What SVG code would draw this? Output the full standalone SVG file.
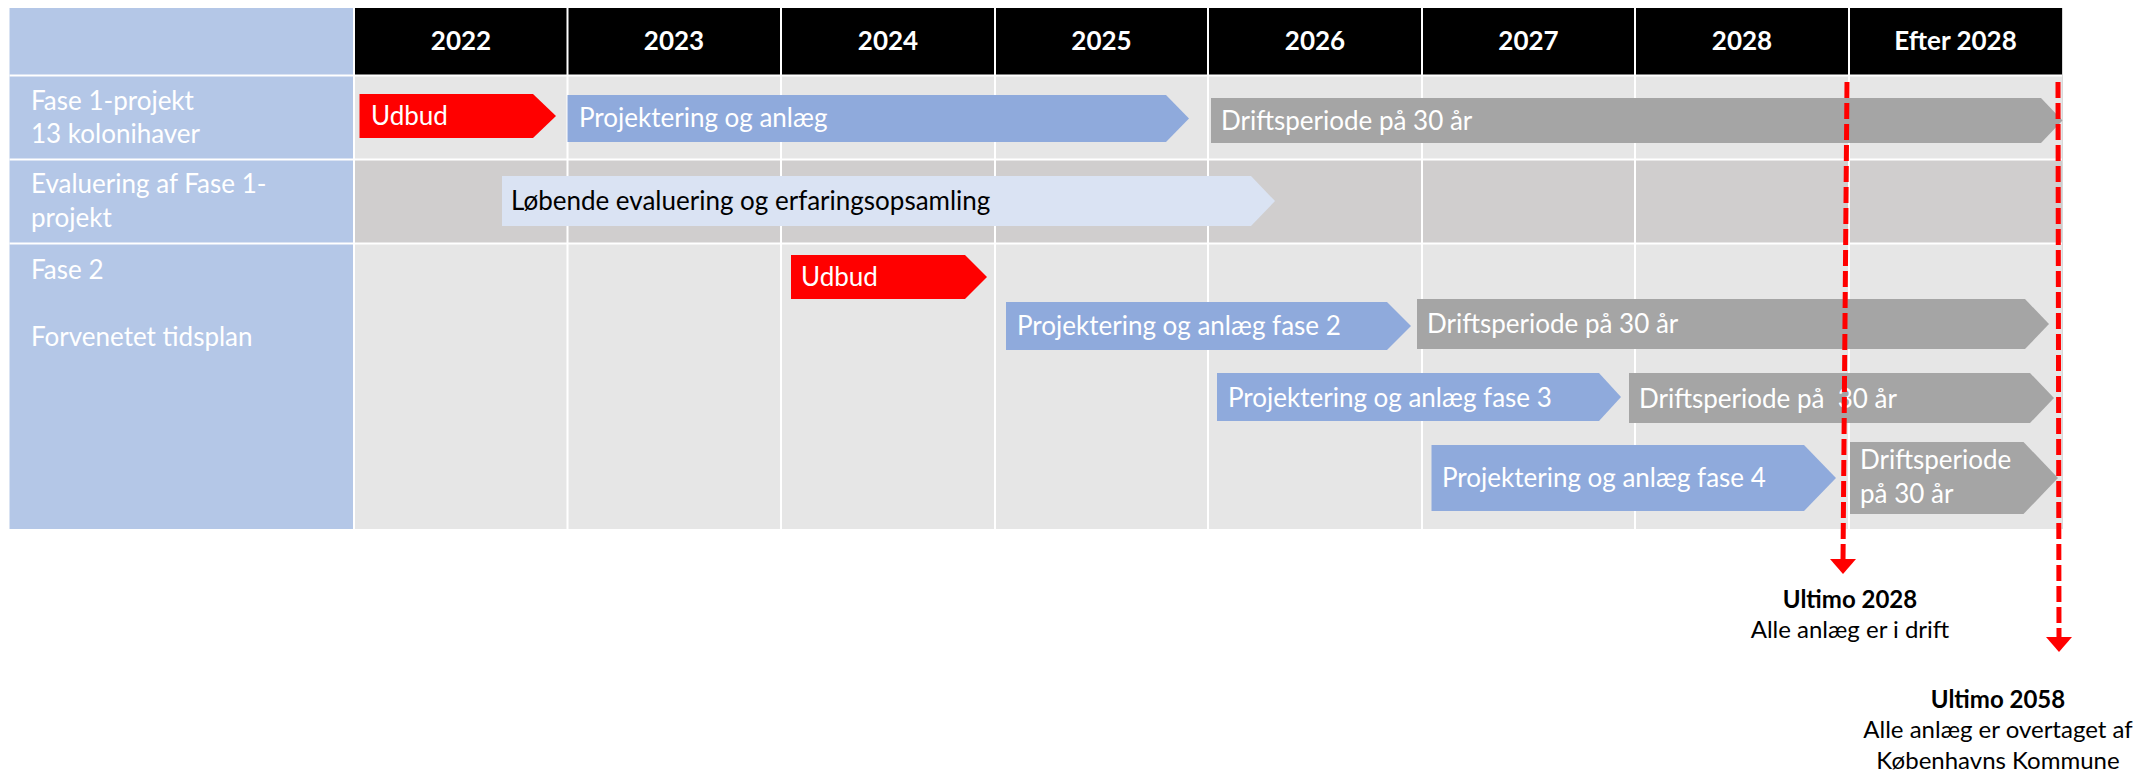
<svg xmlns="http://www.w3.org/2000/svg" width="2138" height="776" viewBox="0 0 2138 776">
<defs>
<style>
.t{font-family:Lato,"Open Sans","Liberation Sans",sans-serif;font-size:26px;fill:#fff}
.h{font-weight:bold;text-anchor:middle;font-size:26px}
.k{fill:#000}
.a{font-family:Lato,"Open Sans","Liberation Sans",sans-serif;font-size:24px;fill:#000;text-anchor:middle}
.b{font-weight:bold}
.grid{stroke:#fff;stroke-width:2;fill:none}
.red{fill:#FF0000}
.blue{fill:#8FAADC}
.gray{fill:#A5A5A5}
.pale{fill:#DAE3F3}
.dash{stroke:#FF0000;stroke-width:5;stroke-dasharray:16 5;fill:none}
</style>
<marker id="ah" viewBox="0 0 10 10" refX="10" refY="5" markerWidth="5" markerHeight="3" markerUnits="strokeWidth" orient="auto">
<path d="M0,0 L10,5 L0,10 Z" fill="#FF0000"/>
</marker>
</defs>
<rect width="2138" height="776" fill="#fff"/>
<g id="table">
<rect x="9.5" y="8" width="344.5" height="521" fill="#B4C7E7"/>
<rect x="354" y="8" width="1708.5" height="67.5" fill="#000"/>
<rect x="354" y="75.5" width="1708.5" height="84" fill="#E6E6E6"/>
<rect x="354" y="159.5" width="1708.5" height="84" fill="#D0CECE"/>
<rect x="354" y="243.5" width="1708.5" height="285.5" fill="#E6E6E6"/>
<path class="grid" d="M9.5,75.5H2062.5M9.5,159.5H2062.5M9.5,243.5H2062.5M354,8V529M567.5,8V529M781,8V529M995,8V529M1208,8V529M1422,8V529M1635,8V529M1849,8V529"/>
<line x1="2062.5" y1="8" x2="2062.5" y2="529" stroke="#D9D9D9" stroke-width="1"/>
</g>
<g id="header">
<text class="t h" x="461" y="50">2022</text>
<text class="t h" x="674" y="50">2023</text>
<text class="t h" x="888" y="50">2024</text>
<text class="t h" x="1101.5" y="50">2025</text>
<text class="t h" x="1315" y="50">2026</text>
<text class="t h" x="1528.5" y="50">2027</text>
<text class="t h" x="1742" y="50">2028</text>
<text class="t h" x="1955.5" y="50">Efter 2028</text>
</g>
<g id="row-labels">
<text class="t" x="31" y="110">Fase 1-projekt</text>
<text class="t" x="31" y="143">13 kolonihaver</text>
<text class="t" x="31" y="193">Evaluering af Fase 1-</text>
<text class="t" x="31" y="227">projekt</text>
<text class="t" x="31" y="279">Fase 2</text>
<text class="t" x="31" y="346">Forvenetet tidsplan</text>
</g>
<g id="udbud1">
<path class="red" d="M359.5,94H533L556,116L533,138H359.5Z"/>
<text class="t" x="371" y="125">Udbud</text>
</g>
<g id="projektering1">
<path class="blue" d="M567.5,95H1166L1189,118.5L1166,142H567.5Z"/>
<text class="t" x="579" y="127">Projektering og anlæg</text>
</g>
<g id="drift1">
<path class="gray" d="M1211,98H2041L2062.5,120.5L2041,143H1211Z"/>
<text class="t" x="1221" y="130">Driftsperiode på 30 år</text>
</g>
<g id="evaluering">
<path class="pale" d="M502,176H1251L1275,201L1251,226H502Z"/>
<text class="t k" x="511" y="210">Løbende evaluering og erfaringsopsamling</text>
</g>
<g id="udbud2">
<path class="red" d="M791,255H965L987,277L965,299H791Z"/>
<text class="t" x="801" y="286">Udbud</text>
</g>
<g id="projektering2">
<path class="blue" d="M1006,302H1387L1411,326L1387,350H1006Z"/>
<text class="t" x="1017" y="335">Projektering og anlæg fase 2</text>
</g>
<g id="drift2">
<path class="gray" d="M1417,299H2025L2049,324L2025,349H1417Z"/>
<text class="t" x="1427" y="333">Driftsperiode på 30 år</text>
</g>
<g id="projektering3">
<path class="blue" d="M1217,373H1599L1621,397L1599,421H1217Z"/>
<text class="t" x="1228" y="407">Projektering og anlæg fase 3</text>
</g>
<g id="drift3">
<path class="gray" d="M1629,373H2030L2054,398L2030,423H1629Z"/>
<text class="t" x="1639" y="408" style="white-space:pre">Driftsperiode på  30 år</text>
</g>
<g id="projektering4">
<path class="blue" d="M1431.5,445H1804L1836,478L1804,511H1431.5Z"/>
<text class="t" x="1442" y="487">Projektering og anlæg fase 4</text>
</g>
<g id="drift4">
<path class="gray" d="M1850,442H2023.5L2058,478L2023.5,514H1850Z"/>
<text class="t" x="1860" y="469">Driftsperiode</text>
<text class="t" x="1860" y="503">på 30 år</text>
</g>
<g id="connectors">
<path class="dash" d="M1847,82L1843,562"/>
<path d="M1830,559H1856L1843,574Z" fill="#FF0000"/>
<path class="dash" d="M2058,82L2059,639"/>
<path d="M2046,637H2072L2059,652Z" fill="#FF0000"/>
</g>
<g id="milestone1">
<text class="a b" x="1850" y="608">Ultimo 2028</text>
<text class="a" x="1850" y="638">Alle anlæg er i drift</text>
</g>
<g id="milestone2">
<text class="a b" x="1998" y="708">Ultimo 2058</text>
<text class="a" x="1998" y="738">Alle anlæg er overtaget af</text>
<text class="a" x="1998" y="769">Københavns Kommune</text>
</g>
</svg>
